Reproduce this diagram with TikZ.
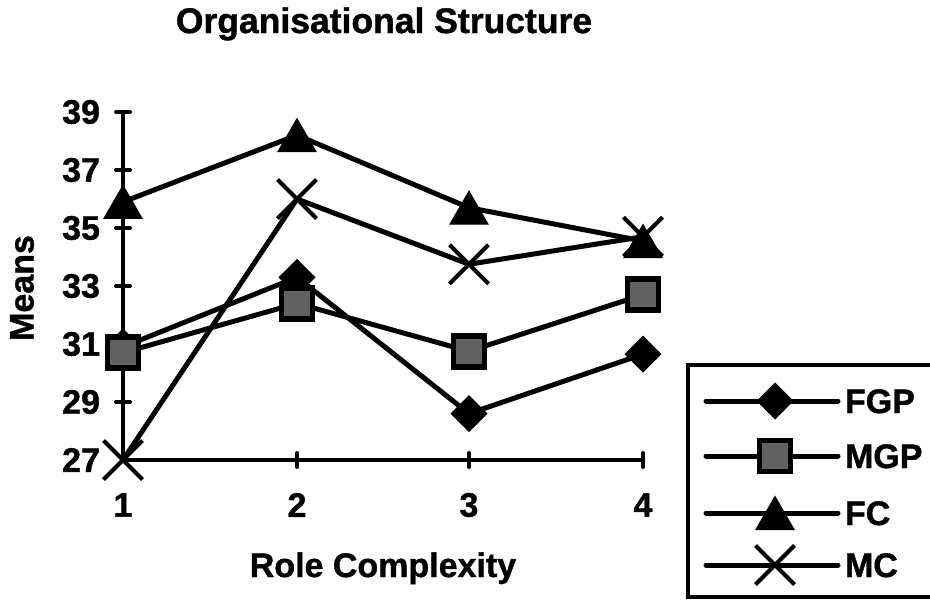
\documentclass[tikz,border=0pt]{standalone}
\usepackage{fontspec}
\setmainfont{Liberation Sans}[BoldFeatures={FakeBold=1.2}]
\usetikzlibrary{shapes.geometric,shapes.misc}
\begin{document}
\begin{tikzpicture}[x=1pt,y=-1pt,
  lbl/.style={font=\fontsize{34}{38}\selectfont\bfseries, inner sep=0pt, outer sep=0pt},
  series/.style={line width=5pt, line join=round, line cap=round},
  axisline/.style={line width=4.5pt, line cap=round},
  tickline/.style={line width=4pt, line cap=round},
  mkfgp/.style={diamond, aspect=1, fill=black, draw=black, line width=1pt, inner sep=0pt, minimum size=36pt},
  mkmgp/.style={rectangle, fill=black!62, draw=black, line width=5.5pt, inner sep=0pt, minimum size=31pt},
  mkfc/.style={regular polygon, regular polygon sides=3, fill=black, draw=black, line width=1pt, inner sep=0pt, minimum size=44pt, yshift=-5.5pt},
  mkmc/.style={cross out, draw=black, line width=4pt, inner sep=0pt, minimum size=35pt},
]
\useasboundingbox (0,0) rectangle (930,600);

% title
\node[lbl, font=\fontsize{35.5}{40}\selectfont\bfseries, anchor=base] (title) at (384,33) {Organisational Structure};

% axes
\coordinate (ytop) at (123,112);
\coordinate (orig) at (123,460);
\coordinate (xend) at (643,460);
\draw[axisline] (ytop) -- (orig) -- (xend);
\foreach \v in {29,31,...,39}{
  \coordinate (ytl\v) at (116,{460-(\v-27)*29});
  \coordinate (ytr\v) at (130,{460-(\v-27)*29});
  \draw[tickline] (ytl\v) -- (ytr\v);
}
\foreach \i/\xx in {2/297,3/469,4/643}{
  \coordinate (xtt\i) at (\xx,453);
  \coordinate (xtb\i) at (\xx,467);
  \draw[tickline] (xtt\i) -- (xtb\i);
}

% axis labels
\foreach \v in {27,29,...,39}{
  \node[lbl, anchor=east] (ylab\v) at (100,{460-(\v-27)*29}) {\v};
}
\foreach \i/\xx in {1/123,2/297,3/469,4/643}{
  \node[lbl] (xlab\i) at (\xx,505) {\i};
}
\node[lbl, rotate=90] (yname) at (22,288) {Means};
\node[lbl, anchor=base] (xname) at (383,577) {Role Complexity};

% data points
\coordinate (fgp1) at (123,{460-(30.9-27)*29});
\coordinate (fgp2) at (297,{460-(33.3-27)*29});
\coordinate (fgp3) at (469,{460-(28.6-27)*29});
\coordinate (fgp4) at (643,{460-(30.65-27)*29});

\coordinate (mgp1) at (123,{460-(30.7-27)*29});
\coordinate (mgp2) at (297,{460-(32.4-27)*29});
\coordinate (mgp3) at (469,{460-(30.75-27)*29});
\coordinate (mgp4) at (643,{460-(32.7-27)*29});

\coordinate (fc1) at (123,{460-(35.9-27)*29});
\coordinate (fc2) at (297,{460-(38.2-27)*29});
\coordinate (fc3) at (469,{460-(35.7-27)*29});
\coordinate (fc4) at (643,{460-(34.55-27)*29});

\coordinate (mc1) at (123,460);
\coordinate (mc2) at (297,{460-(36.0-27)*29});
\coordinate (mc3) at (469,{460-(33.75-27)*29});
\coordinate (mc4) at (643,{460-(34.7-27)*29});

% series FGP
\draw[series] (fgp1) -- (fgp2) -- (fgp3) -- (fgp4);
\foreach \i in {1,...,4}{ \node[mkfgp] (fgpm\i) at (fgp\i) {}; }
% series MGP
\draw[series] (mgp1) -- (mgp2) -- (mgp3) -- (mgp4);
\foreach \i in {1,...,4}{ \node[mkmgp] (mgpm\i) at (mgp\i) {}; }
% series FC
\draw[series] (fc1) -- (fc2) -- (fc3) -- (fc4);
\foreach \i in {1,...,4}{ \node[mkfc] (fcm\i) at (fc\i) {}; }
% series MC
\draw[series] (mc1) -- (mc2) -- (mc3) -- (mc4);
\foreach \i in {1,...,4}{ \node[mkmc] (mcm\i) at (mc\i) {}; }

% legend
\coordinate (legtl) at (688,365);
\coordinate (legbr) at (945,597);
\draw[line width=3.5pt] (legtl) rectangle (legbr);
\foreach \k/\yy/\nm/\mk in {1/401/FGP/mkfgp, 2/456/MGP/mkmgp, 3/513/FC/mkfc, 4/565/MC/mkmc}{
  \coordinate (lga\k) at (706,\yy);
  \coordinate (lgb\k) at (838,\yy);
  \draw[series] (lga\k) -- (lgb\k);
  \node[\mk] (lgm\k) at (775,\yy) {};
  \node[lbl, anchor=base west] (lgt\k) at (845,\yy+12) {\nm};
}
\end{tikzpicture}
\end{document}
